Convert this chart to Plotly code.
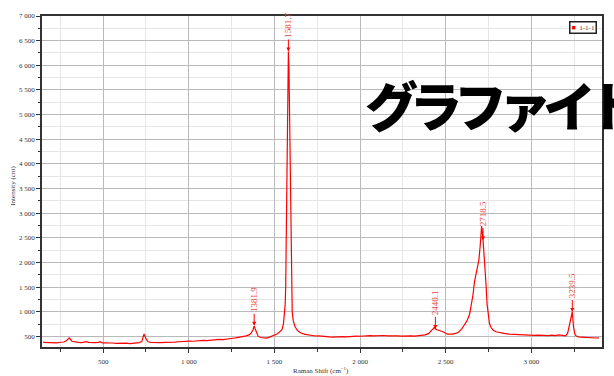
import plotly.graph_objects as go

# Raman spectrum of sample "1-1-1"
series_name = "1-1-1"

raman_shift = [
    150, 170, 190, 210, 230, 250, 270, 285, 302, 318, 335, 355, 375, 392, 402, 415,
    435, 455, 472, 482, 495, 515, 535, 555, 575, 595, 615, 635, 655, 675, 695, 712,
    726, 739, 750, 762, 780, 800, 820, 840, 860, 880, 900, 920, 940, 966, 985, 1005,
    1025, 1045, 1065, 1085, 1105, 1125, 1140, 1160, 1180, 1200, 1220, 1240, 1257,
    1275, 1295, 1315, 1335, 1354, 1366, 1376, 1381.9, 1388, 1396, 1405, 1420, 1436,
    1451, 1468, 1485, 1500, 1515, 1530, 1545, 1553, 1559, 1563, 1566, 1569, 1572,
    1575, 1578, 1581.7, 1585, 1588, 1591, 1594, 1597, 1600, 1604, 1610, 1620, 1635,
    1655, 1680, 1700, 1720, 1740, 1760, 1780, 1800, 1820, 1840, 1860, 1880, 1900,
    1920, 1940, 1960, 1980, 2000, 2020, 2040, 2060, 2080, 2100, 2120, 2140, 2160,
    2180, 2200, 2220, 2240, 2260, 2280, 2300, 2320, 2340, 2360, 2380, 2400, 2415,
    2425, 2433, 2440.1, 2450, 2460, 2470, 2480, 2490, 2500, 2510, 2520, 2540, 2557,
    2575, 2594, 2606, 2625, 2640, 2650, 2660, 2668, 2678, 2686, 2694, 2702, 2710,
    2718.5, 2728, 2735, 2742, 2749, 2756, 2765, 2778, 2795, 2815, 2840, 2870, 2900,
    2920, 2940, 2960, 2980, 3000, 3020, 3040, 3060, 3080, 3100, 3120, 3140, 3160,
    3180, 3200, 3212, 3222, 3232, 3239.5, 3247, 3255, 3263, 3275, 3290, 3305, 3320,
    3335, 3350, 3365, 3380, 3395,
]

intensity = [
    378, 372, 380, 374, 369, 381, 386, 412, 472, 402, 388, 380, 372, 386, 392, 378,
    370, 374, 380, 392, 368, 372, 362, 366, 358, 364, 356, 362, 354, 360, 366, 374,
    398, 551, 455, 392, 376, 370, 378, 373, 380, 376, 386, 383, 391, 401, 398, 406,
    402, 412, 408, 418, 414, 423, 420, 432, 438, 434, 448, 456, 462,
    470, 482, 496, 512, 535, 575, 640, 714, 650, 560, 505, 478, 470,
    467, 480, 500, 522, 548, 588, 640, 760, 940, 1150, 1500, 2600, 4200,
    5300, 6000, 6280, 5950, 5200, 4300, 3000, 1900, 1350, 1000, 820, 700, 620,
    570, 540, 528, 515, 508, 512, 500, 495, 490, 486, 492, 487, 494,
    489, 498, 502, 507, 503, 510, 506, 514, 509, 516, 512, 518, 510,
    515, 507, 512, 506, 511, 504, 509, 505, 512, 517, 530, 556,
    600, 648, 683, 652, 636, 628, 617, 600, 585, 566, 545, 548, 545,
    560, 585, 651, 720, 820, 950, 1150, 1350, 1600, 1760, 1850, 2050, 2350,
    2740, 2450, 2050, 1600, 1150, 900, 760, 680, 625, 595, 578, 562, 548,
    540, 536, 532, 534, 528, 524, 520, 526, 518, 522, 515, 526, 517, 530,
    519, 512, 560, 720, 944, 995, 683, 540, 507, 490, 487, 482, 479,
    475, 472, 476, 468, 470, 466,
]

# Peaks tagged on the spectrum
peak_shifts = [1381.9, 1581.7, 2440.1, 2718.5, 3239.5]

x_ticks = [500, 1000, 1500, 2000, 2500, 3000]
y_ticks = list(range(500, 7001, 500))

title_text = "グラファイト"

serif = "Liberation Serif, Times New Roman, serif"
red = "#ff0000"
label_red = "#e8493f"

fig = go.Figure()
fig.add_trace(go.Scatter(
    x=raman_shift, y=intensity, mode="lines", name=series_name,
    line=dict(color=red, width=1.2), showlegend=False,
))

# Arrows and rotated labels over each tagged peak
for p in peak_shifts:
    v = intensity[raman_shift.index(p)]
    fig.add_annotation(
        x=p, y=v, xref="x", yref="y", text=f"{p:.1f}", textangle=-90,
        showarrow=True, arrowhead=2, arrowsize=0.8, arrowwidth=1,
        arrowcolor=red, ax=0, ay=-26,
        font=dict(family=serif, size=9, color=label_red),
    )

# Compact legend box
fig.add_annotation(
    xref="paper", yref="paper", x=0.9917, y=0.9863, xanchor="right", yanchor="top",
    text=f"<span style='color:{red}'>■</span>  {series_name}", showarrow=False,
    font=dict(family=serif, size=7, color="#333"),
    bgcolor="white", bordercolor="#222", borderwidth=1.5, borderpad=1,
)

# Axis titles
fig.add_annotation(
    xref="paper", yref="paper", x=-0.062, y=0.488, textangle=-90, showarrow=False,
    text="Intensity (cnt)", font=dict(family=serif, size=7, color="#333"),
)
fig.add_annotation(
    xref="paper", yref="paper", x=0.498, y=-0.05, yanchor="top", showarrow=False,
    text="Raman Shift (cm<sup>−1</sup>)", font=dict(family=serif, size=7, color="#333"),
)

# Large overlay caption
fig.add_annotation(
    xref="paper", yref="paper", x=0.573, y=0.735, xanchor="left", yanchor="middle",
    showarrow=False,
    text=f"<span style='letter-spacing:-8.5px'>{title_text}</span>",
    font=dict(family="Noto Sans CJK JP", size=53, color="black", weight=900),
)

axis_common = dict(
    showline=True, linecolor="#333", linewidth=1.5, mirror=True,
    ticks="outside", ticklen=4, tickcolor="#333", tickwidth=1,
    showgrid=True, gridcolor="#b9b9b9", gridwidth=1, zeroline=False,
    tickfont=dict(family=serif, size=7, color="#333"),
    tickformat=",d",
)

fig.update_xaxes(
    range=[143, 3413], tickvals=x_ticks, ticklabelstandoff=3,
    minor=dict(dtick=250, tick0=0, ticks="outside", ticklen=3, tickcolor="#333",
               showgrid=True, gridcolor="#e6e6e6"),
    **axis_common,
)
fig.update_yaxes(
    range=[285, 7000], tickvals=y_ticks,
    minor=dict(dtick=250, tick0=0, ticks="outside", ticklen=2, tickcolor="#333",
               showgrid=True, gridcolor="#e6e6e6"),
    **axis_common,
)

fig.update_layout(
    width=614, height=376,
    margin=dict(l=42, r=10, t=16, b=17),
    paper_bgcolor="white", plot_bgcolor="white",
    separators=". ",
)

fig.write_html("out.html")
